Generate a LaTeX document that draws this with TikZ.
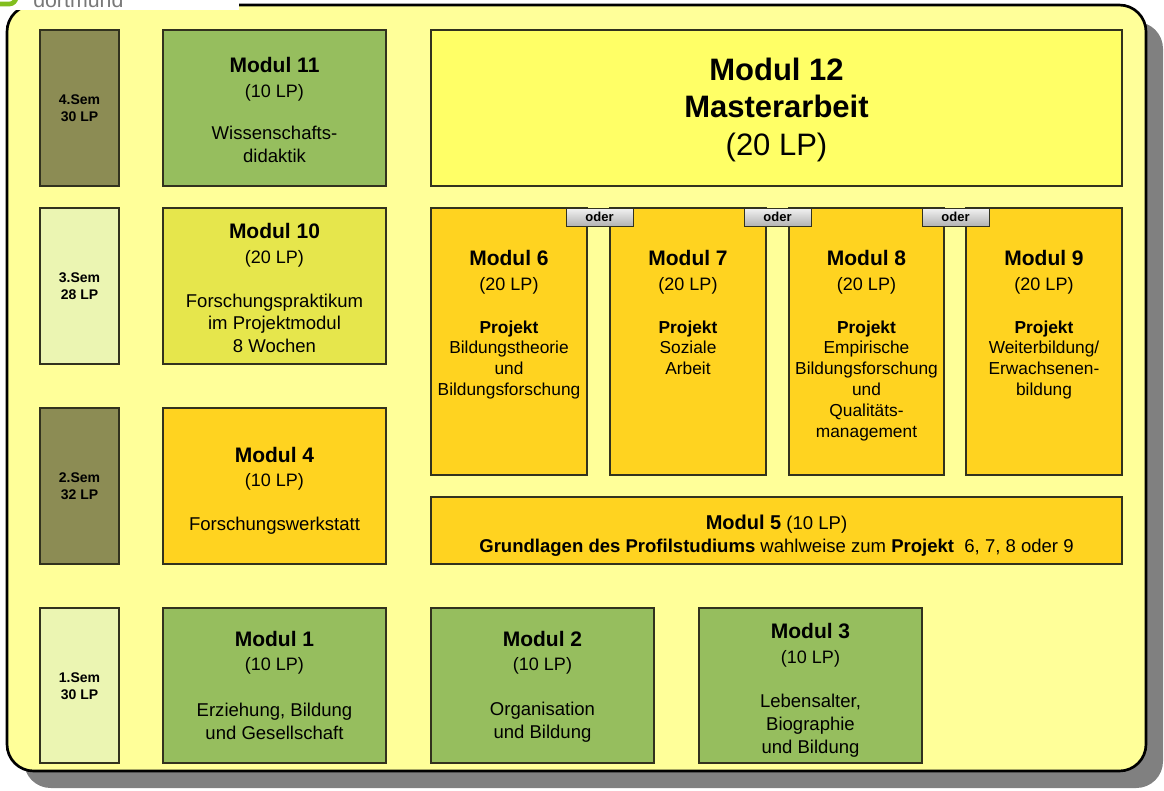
\documentclass[tikz,border=0pt]{standalone}
\usepackage{fontspec}
\setmainfont{Liberation Sans}
\definecolor{framefill}{RGB}{255,255,153}
\definecolor{shadowgray}{RGB}{128,128,128}
\definecolor{boxline}{RGB}{50,50,30}
\definecolor{semdark}{RGB}{140,140,84}
\definecolor{semlight}{RGB}{235,245,178}
\definecolor{modgreen}{RGB}{150,190,94}
\definecolor{modlime}{RGB}{230,230,76}
\definecolor{modgold}{RGB}{255,211,32}
\definecolor{modyellow}{RGB}{255,255,102}
\definecolor{logogreen}{RGB}{130,190,30}
\definecolor{logogray}{RGB}{120,120,120}

\begin{document}
\begin{tikzpicture}[x=0.75pt,y=0.75pt,yscale=-1,xscale=1,
	box/.style={draw=boxline,line width=0.8pt},
	semtext/.style={anchor=base,inner sep=0pt,align=center,font=\fontsize{10.5}{12.75}\selectfont\bfseries},
	mtitle/.style={anchor=base,inner sep=0pt,font=\fontsize{15.75}{18}\selectfont\bfseries},
	lptext/.style={anchor=base,inner sep=0pt,font=\fontsize{13.5}{16}\selectfont},
	body/.style={anchor=base,inner sep=0pt,align=center,font=\fontsize{13.9}{16.9}\selectfont},
	projtext/.style={anchor=base,inner sep=0pt,align=center,font=\fontsize{13}{15.6}\selectfont},
	odertab/.style={draw=boxline,line width=0.6pt,top color=white!95!black,bottom color=white!70!black,minimum width=50.25pt,minimum height=13.5pt,inner sep=0pt,font=\fontsize{9.75}{11}\selectfont\bfseries}]
	\useasboundingbox (0,0) rectangle (1164,790);
	% frame with shadow
	\fill [shadowgray,rounded corners=20pt] (24,22) rectangle (1163,788);
	\filldraw [fill=framefill,draw=black,line width=2pt,rounded corners=20pt] (7,5) rectangle (1146,771);
	% logo
	\fill [white] (0,0) rectangle (239,9.5);
	\draw [logogreen,line width=3.5pt,rounded corners=5pt] (-10,4) -- (16,4) -- (16,-20);
	\node [anchor=base west,inner sep=0pt,text=logogray,font=\fontsize{16}{18}\selectfont] (logo) at (33,7) {dortmund};
	% semester (base = last line)
	\draw [box,fill=semdark] (40,30) rectangle (119,186);
	\draw [box,fill=semlight] (40,208) rectangle (119,364);
	\draw [box,fill=semdark] (40,408) rectangle (119,564);
	\draw [box,fill=semlight] (40,608) rectangle (119,763);
	\node [semtext] (sem4) at (79.5,121) {4.Sem\\30 LP};
	\node [semtext] (sem3) at (79.5,299) {3.Sem\\28 LP};
	\node [semtext] (sem2) at (79.5,499) {2.Sem\\32 LP};
	\node [semtext] (sem1) at (79.5,699) {1.Sem\\30 LP};
	% modules
	\draw [box,fill=modgreen] (163,30) rectangle (386,186);
	\draw [box,fill=modlime] (163,208) rectangle (386,364);
	\draw [box,fill=modgold] (163,408) rectangle (386,564);
	\draw [box,fill=modgreen] (163,608) rectangle (386,763);
	\draw [box,fill=modgreen] (431,608) rectangle (654,763);
	\draw [box,fill=modgreen] (699,608) rectangle (922,763);
	\draw [box,fill=modyellow] (431,30) rectangle (1122,186);
	\draw [box,fill=modgold] (431,208) rectangle (587,475);
	\draw [box,fill=modgold] (610,208) rectangle (766,475);
	\draw [box,fill=modgold] (789,208) rectangle (944,475);
	\draw [box,fill=modgold] (966,208) rectangle (1122,475);
	\draw [box,fill=modgold] (431,497) rectangle (1122,564);
	\node [odertab] (oder1) at (599.5,217) {oder};
	\node [odertab] (oder2) at (777.5,217) {oder};
	\node [odertab] (oder3) at (955.5,217) {oder};
	% module texts
	\node [mtitle] (m11t) at (274.5,72) {Modul 11};
	\node [lptext] (m11lp) at (274.5,97) {(10 LP)};
	\node [body] (m11b) at (274.5,162.5) {Wissenschafts-\\didaktik};
	\node [mtitle] (m10t) at (274.5,238) {Modul 10};
	\node [lptext] (m10lp) at (274.5,263) {(20 LP)};
	\node [body] (m10b) at (274.5,352.5) {Forschungspraktikum\\im Projektmodul\\8 Wochen};
	\node [mtitle] (m4t) at (274.5,462) {Modul 4};
	\node [lptext] (m4lp) at (274.5,486) {(10 LP)};
	\node [body] (m4b) at (274.5,530) {Forschungswerkstatt};
	\node [mtitle] (m1t) at (274.5,646) {Modul 1};
	\node [lptext] (m1lp) at (274.5,670) {(10 LP)};
	\node [body] (m1b) at (274.5,739.5) {Erziehung, Bildung\\und Gesellschaft};
	\node [mtitle] (m2t) at (542.5,646) {Modul 2};
	\node [lptext] (m2lp) at (542.5,670) {(10 LP)};
	\node [body] (m2b) at (542.5,738.5) {Organisation\\und Bildung};
	\node [mtitle] (m3t) at (810.5,638) {Modul 3};
	\node [lptext] (m3lp) at (810.5,663) {(10 LP)};
	\node [body] (m3b) at (810.5,753) {Lebensalter,\\Biographie\\und Bildung};
	\node [anchor=base,inner sep=0pt,align=center,font=\fontsize{23.25}{28.1}\selectfont] (m12t) at (776.5,155) {\textbf{Modul 12}\\\textbf{Masterarbeit}\\(20 LP)};
	\node [mtitle] (m6t) at (509,265.5) {Modul 6};
	\node [lptext] (m6lp) at (509,290) {(20 LP)};
	\node [projtext] (m6b) at (509,395.4) {\textbf{Projekt}\\Bildungstheorie\\und\\Bildungsforschung};
	\node [mtitle] (m7t) at (688,265.5) {Modul 7};
	\node [lptext] (m7lp) at (688,290) {(20 LP)};
	\node [projtext] (m7b) at (688,374.6) {\textbf{Projekt}\\Soziale\\Arbeit};
	\node [mtitle] (m8t) at (866.5,265.5) {Modul 8};
	\node [lptext] (m8lp) at (866.5,290) {(20 LP)};
	\node [projtext] (m8b) at (866.5,437) {\textbf{Projekt}\\Empirische\\Bildungsforschung\\und\\Qualitäts-\\management};
	\node [mtitle] (m9t) at (1044,265.5) {Modul 9};
	\node [lptext] (m9lp) at (1044,290) {(20 LP)};
	\node [projtext] (m9b) at (1044,395.4) {\textbf{Projekt}\\Weiterbildung/\\Erwachsenen-\\bildung};
	\node [body] (m5t) at (776.5,529) {{\fontsize{15}{18}\selectfont\bfseries Modul 5} (10 LP)};
	\node [body] (m5b) at (776.5,552) {\textbf{Grundlagen des Profilstudiums} wahlweise zum \textbf{Projekt}~ 6, 7, 8 oder 9};
\end{tikzpicture}
\end{document}
